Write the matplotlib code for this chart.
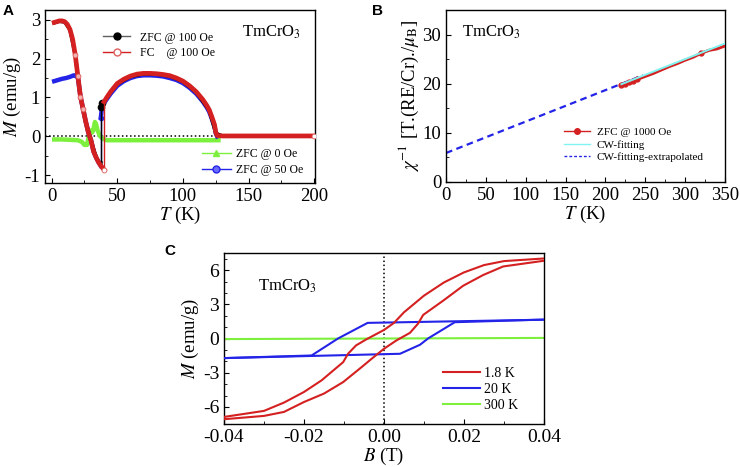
import matplotlib
matplotlib.use('Agg')
import matplotlib.pyplot as plt
from matplotlib.lines import Line2D
from matplotlib.ticker import MultipleLocator, FormatStrFormatter

plt.rcParams['font.family'] = ['Liberation Serif', 'DejaVu Serif']
plt.rcParams['mathtext.fontset'] = 'stix'
plt.rcParams['axes.unicode_minus'] = False

# ---- panel A: M(T) ----
t_fc_low = [2, 4, 6, 8, 10, 12, 14, 16, 18, 20, 22, 24, 26, 28, 30, 32, 34, 36, 38, 40]
m_fc_low = [2.93, 2.95, 2.97, 2.97, 2.95, 2.88, 2.75, 2.5, 2.1, 1.55, 1.02, 0.7, 0.38, 0.1,
            -0.1, -0.39, -0.55, -0.68, -0.78, -0.86]
t_fc_high = [40, 42, 45, 50, 55, 60, 65, 70, 75, 80, 85, 90, 95, 100, 105, 110, 115, 118,
             120, 122, 124, 125, 126, 130, 140, 150, 160, 170, 180, 190, 200]
m_fc_high = [0.89, 1.0, 1.15, 1.36, 1.47, 1.55, 1.6, 1.62, 1.62, 1.61, 1.59, 1.56, 1.5, 1.42,
             1.3, 1.15, 0.95, 0.8, 0.68, 0.5, 0.3, 0.1, 0.02, 0.01, 0.01, 0.01, 0.01, 0.01,
             0.01, 0.01, 0.01]

t_zfc100_low = [2, 6, 10, 14, 18, 22, 26, 30, 34, 36, 37.5]
m_zfc100_low = [2.92, 2.96, 2.94, 2.74, 2.1, 1.0, 0.37, -0.1, -0.55, -0.67, -0.68]
t_zfc100_high = [37.5, 38.5, 40, 45, 50, 60, 70, 80, 90, 100, 110, 120, 125, 130, 200]
m_zfc100_high = [0.75, 0.85, 0.9, 1.14, 1.35, 1.54, 1.61, 1.6, 1.55, 1.41, 1.14, 0.67, 0.08,
                 0.01, 0.01]

t_zfc50_low = [2, 5, 8, 11, 14, 17, 20, 22, 24, 26, 28, 30, 32, 34, 36, 37.5]
m_zfc50_low = [1.42, 1.45, 1.48, 1.5, 1.53, 1.57, 1.52, 1.02, 0.7, 0.38, 0.1, -0.1, -0.39,
               -0.55, -0.68, -0.76]
t_zfc50_high = [37.5, 38.5, 40, 45, 50, 55, 60, 65, 70, 75, 80, 85, 90, 95, 100, 105, 110,
                115, 118, 120, 122, 124, 125, 126]
m_zfc50_high = [0.48, 0.8, 0.86, 1.1, 1.3, 1.42, 1.5, 1.55, 1.57, 1.57, 1.56, 1.54, 1.5,
                1.45, 1.37, 1.25, 1.1, 0.9, 0.75, 0.63, 0.45, 0.25, 0.08, 0.0]

t_zfc0 = [2, 8, 14, 20, 23, 25, 27, 28, 30, 31, 32, 33, 34, 35, 37, 39, 42, 60, 90, 127]
m_zfc0 = [-0.08, -0.08, -0.09, -0.1, -0.14, -0.22, -0.22, -0.05, 0.15, 0.1, 0.2, 0.37, 0.3,
          0.15, 0.0, -0.06, -0.1, -0.1, -0.1, -0.1]

# ---- panel B: inverse susceptibility ----
t_inv = [220, 225, 230, 235, 240, 245, 250, 260, 270, 280, 290, 300, 310, 320, 330, 340, 350]
chi_inv = [19.8, 20.0, 20.3, 20.6, 20.9, 21.2, 21.5, 22.1, 22.8, 23.5, 24.1, 24.8, 25.4,
           26.2, 26.8, 27.1, 27.7]
t_cw = [220, 350]
chi_cw = [19.9, 28.2]
t_cw_ext = [0, 247]
chi_cw_ext = [5.9, 21.7]

# ---- panel C: M(B) loops ----
b_18_down = [0.04, 0.03, 0.025, 0.02, 0.015, 0.01, 0.005, 0.0025, 0.0, -0.0045, -0.007,
             -0.009, -0.0102, -0.0156, -0.02, -0.025, -0.03, -0.04]
m_18_down = [7.02, 6.79, 6.44, 5.8, 4.92, 3.76, 2.3, 1.37, 0.75, -0.09, -0.61, -1.34, -2.07,
             -3.67, -4.69, -5.62, -6.35, -6.88]
b_18_up = [-0.04, -0.03, -0.025, -0.02, -0.015, -0.0102, -0.0056, -0.0031, 0.0, 0.0031,
           0.0065, 0.0085, 0.0098, 0.0148, 0.0198, 0.0248, 0.0298, 0.04]
m_18_up = [-7.08, -6.79, -6.44, -5.57, -4.83, -3.82, -2.51, -1.78, -0.9, -0.17, 0.5, 1.3,
           2.07, 3.32, 4.63, 5.57, 6.32, 6.82]
b_20_down = [0.04, -0.0041, -0.0115, -0.0181, -0.04]
m_20_down = [1.65, 1.37, 0.0, -1.49, -1.72]
b_20_up = [-0.04, 0.004, 0.009, 0.011, 0.0177, 0.04]
m_20_up = [-1.72, -1.34, -0.55, 0.0, 1.43, 1.66]
b_300 = [-0.04, 0.04]
m_300 = [-0.05, 0.05]

RED = '#d42020'
BLUE = '#2424e8'
GREEN = '#7cf03c'


def style(ax, xmaj, xmin, ymaj, ymin, size=13.5):
    ax.xaxis.set_major_locator(MultipleLocator(xmaj))
    ax.xaxis.set_minor_locator(MultipleLocator(xmin))
    ax.yaxis.set_major_locator(MultipleLocator(ymaj))
    ax.yaxis.set_minor_locator(MultipleLocator(ymin))
    ax.tick_params(which='both', direction='in', top=False, right=False, labelsize=size)
    ax.tick_params(which='major', length=3.5)
    ax.tick_params(which='minor', length=2)
    for s in ax.spines.values():
        s.set_linewidth(1.0)


fig = plt.figure(figsize=(7.4, 4.67), dpi=100)

# ---------------- A ----------------
axA = fig.add_axes([45 / 740, 1 - 183 / 467, 270 / 740, 173 / 467])
axA.axhline(0, color='k', ls=':', lw=1.1, zorder=1)
axA.plot(t_zfc0, m_zfc0, color=GREEN, lw=3.2, zorder=2)
axA.plot(t_zfc50_low, m_zfc50_low, color=BLUE, lw=3.2, zorder=3)
axA.plot(t_zfc50_high, m_zfc50_high, color=BLUE, lw=3.2, zorder=3)
axA.plot([t_zfc50_low[-1], t_zfc50_high[0]], [m_zfc50_low[-1], m_zfc50_high[0]],
         color=BLUE, lw=1, zorder=3)
axA.plot(t_zfc50_high[:1], m_zfc50_high[:1], 'o', color=BLUE, ms=3, zorder=3)
axA.plot(t_zfc100_low, m_zfc100_low, color='k', lw=2.5, zorder=4)
axA.plot(t_zfc100_high, m_zfc100_high, color='k', lw=2.5, zorder=4)
axA.plot([t_zfc100_low[-1], t_zfc100_high[0]], [m_zfc100_low[-1], m_zfc100_high[0]],
         color='k', lw=1, zorder=4)
axA.plot(t_zfc100_high[:2], m_zfc100_high[:2], 'o', color='k', ms=4.5, zorder=4)
axA.plot(t_fc_low, m_fc_low, color=RED, lw=3.4, zorder=5)
axA.plot(t_fc_high, m_fc_high, color=RED, lw=3.4, zorder=5)
axA.plot([t_fc_low[-1], t_fc_high[0]], [m_fc_low[-1], m_fc_high[0]], color=RED, lw=1, zorder=5)
axA.plot(t_fc_low[8:12], m_fc_low[8:12], 'o', ms=3.5, mfc='#f4b0b0', mec='#e06060',
         mew=0.6, zorder=6)
axA.plot([t_fc_low[-1], t_fc_high[-1]], [m_fc_low[-1], m_fc_high[-1]], 'o', ms=3.5,
         mfc='white', mec='#e06060', mew=0.6, zorder=6)
axA.set_xlim(-5, 200.5)
axA.set_ylim(-1.2, 3.25)
style(axA, 50, 25, 1, 0.5)
axA.set_xlabel(r'$T$ (K)', fontsize=13.5, labelpad=0)
axA.set_ylabel(r'$M$ (emu/g)', fontsize=13.5, labelpad=1)
axA.text(0.728, 0.869, r'TmCrO$_3$', transform=axA.transAxes, fontsize=12, va='center')

hA1 = [Line2D([], [], color='#606060', lw=1, marker='o', ms=5, mfc='k', mec='k'),
       Line2D([], [], color=RED, lw=1, marker='o', ms=5, mfc='white', mec='#e06060')]
legA1 = axA.legend(hA1, ['ZFC @ 100 Oe', 'FC    @ 100 Oe'], loc='upper left',
                   bbox_to_anchor=(0.215, 0.875), frameon=False, fontsize=8.5,
                   handlelength=2.3, handletextpad=0.8, labelspacing=0.3,
                   borderpad=0, borderaxespad=0)
axA.add_artist(legA1)
hA2 = [Line2D([], [], color=GREEN, lw=1, marker='^', ms=5, mfc=GREEN, mec=GREEN),
       Line2D([], [], color=BLUE, lw=1, marker='o', ms=5, mfc='#6a6aff', mec=BLUE)]
axA.legend(hA2, ['ZFC @ 0 Oe', 'ZFC @ 50 Oe'], loc='upper left',
           bbox_to_anchor=(0.58, 0.2), frameon=False, fontsize=8.5,
           handlelength=2.5, handletextpad=0.45, labelspacing=0.3,
           borderpad=0, borderaxespad=0)

# ---------------- B ----------------
axB = fig.add_axes([446 / 740, 1 - 182 / 467, 279 / 740, 172 / 467])
axB.plot(t_cw_ext, chi_cw_ext, color=BLUE, ls=(0, (3, 2)), lw=1.6, zorder=2)
axB.plot(t_inv, chi_inv, color=RED, lw=2.2, marker='o', ms=3.5,
         markevery=[0, 1, 2, 3, 4, 13], zorder=3)
axB.plot(t_cw, chi_cw, color='#80f4f0', lw=1.4, zorder=4)
axB.set_xlim(0, 350)
axB.set_ylim(0, 35)
style(axB, 50, 25, 10, 5)
axB.set_xlabel(r'$T$ (K)', fontsize=13.5, labelpad=0)
axB.set_ylabel(r'$\chi^{-1}$ [T.(RE/Cr)./$\mu_{\rm B}$]', fontsize=13.5, labelpad=1)
axB.text(0.056, 0.868, r'TmCrO$_3$', transform=axB.transAxes, fontsize=12, va='center')
hB = [Line2D([], [], color=RED, lw=1, marker='o', ms=4),
      Line2D([], [], color='#80f4f0', lw=1),
      Line2D([], [], color=BLUE, lw=1, ls=(0, (2, 1.5)))]
axB.legend(hB, ['ZFC @ 1000 Oe', 'CW-fitting', 'CW-fitting-extrapolated'],
           loc='upper left', bbox_to_anchor=(0.423, 0.317), frameon=False, fontsize=8,
           handlelength=2.35, handletextpad=0.6, labelspacing=0.25,
           borderpad=0, borderaxespad=0)

# ---------------- C ----------------
axC = fig.add_axes([224 / 740, 1 - 424 / 467, 320 / 740, 171 / 467])
axC.axvline(0, color='k', ls=':', lw=1.1, zorder=1)
axC.plot(b_300, m_300, color=GREEN, lw=1.5, label='300 K', zorder=2)
axC.plot(b_20_down, m_20_down, color=BLUE, lw=1.5, label='20 K', zorder=3)
axC.plot(b_20_up, m_20_up, color=BLUE, lw=1.5, zorder=3)
axC.plot(b_18_down, m_18_down, color=RED, lw=1.5, label='1.8 K', zorder=4)
axC.plot(b_18_up, m_18_up, color=RED, lw=1.5, zorder=4)
axC.set_xlim(-0.04, 0.04)
axC.set_ylim(-7.5, 7.5)
style(axC, 0.02, 0.01, 3, 1, size=14)
axC.xaxis.set_major_formatter(FormatStrFormatter('%.2f'))
axC.set_xlabel(r'$B$ (T)', fontsize=13.5, labelpad=0)
axC.set_ylabel(r'$M$ (emu/g)', fontsize=13.5, labelpad=1)
axC.text(0.107, 0.803, r'TmCrO$_3$', transform=axC.transAxes, fontsize=12, va='center')
h, l = axC.get_legend_handles_labels()
axC.legend(h[::-1], l[::-1], loc='upper left', bbox_to_anchor=(0.683, 0.333),
           frameon=False, fontsize=10, handlelength=2.7, handletextpad=0.3,
           labelspacing=0.2, borderpad=0, borderaxespad=0)

# panel letters
for x, y, s in [(3, 4, 'A'), (372, 4, 'B'), (164, 244, 'C')]:
    fig.text(x / 740, 1 - y / 467, s, fontsize=11, fontweight='bold',
             family='Liberation Sans', va='top', ha='left')

fig.savefig('out.png', dpi=100)
